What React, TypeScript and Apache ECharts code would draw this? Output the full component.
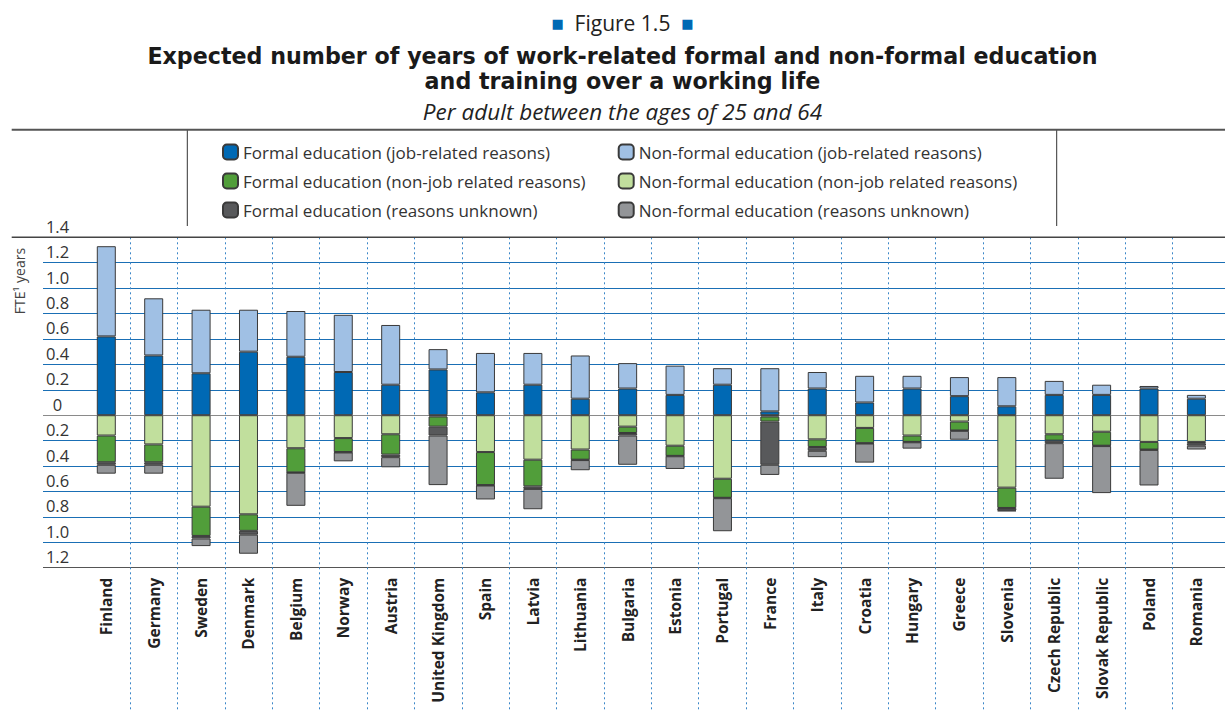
import React, { useEffect, useRef } from "react";
import * as echarts from "echarts";

const countries = [
  "Finland", "Germany", "Sweden", "Denmark", "Belgium", "Norway", "Austria",
  "United Kingdom", "Spain", "Latvia", "Lithuania", "Bulgaria", "Estonia",
  "Portugal", "France", "Italy", "Croatia", "Hungary", "Greece", "Slovenia",
  "Czech Republic", "Slovak Republic", "Poland", "Romania",
];

const formalJob = [0.62, 0.47, 0.33, 0.5, 0.46, 0.34, 0.24, 0.36, 0.18, 0.24, 0.13, 0.21, 0.16, 0.24, 0.03, 0.21, 0.1, 0.21, 0.15, 0.07, 0.16, 0.16, 0.21, 0.13];
const nonFormalJob = [0.71, 0.45, 0.5, 0.33, 0.36, 0.45, 0.47, 0.16, 0.31, 0.25, 0.34, 0.2, 0.23, 0.13, 0.34, 0.13, 0.21, 0.1, 0.15, 0.23, 0.11, 0.08, 0.02, 0.03];
const nonFormalNonJob = [-0.16, -0.23, -0.72, -0.78, -0.26, -0.18, -0.15, -0.01, -0.29, -0.35, -0.27, -0.09, -0.24, -0.5, -0.01, -0.19, -0.1, -0.16, -0.05, -0.57, -0.15, -0.13, -0.21, -0.21];
const formalNonJob = [-0.21, -0.14, -0.23, -0.13, -0.19, -0.11, -0.16, -0.08, -0.26, -0.21, -0.08, -0.05, -0.08, -0.15, -0.04, -0.06, -0.12, -0.05, -0.07, -0.16, -0.05, -0.11, -0.06, -0.01];
const formalUnknown = [-0.02, -0.02, -0.02, -0.03, -0.003, -0.003, -0.02, -0.07, -0.003, -0.02, -0.003, -0.02, -0.003, -0.003, -0.34, -0.03, -0.003, -0.003, -0.003, -0.02, -0.02, -0.003, -0.003, -0.02];
const nonFormalUnknown = [-0.07, -0.07, -0.06, -0.15, -0.26, -0.07, -0.08, -0.39, -0.11, -0.16, -0.08, -0.23, -0.1, -0.26, -0.08, -0.05, -0.15, -0.05, -0.07, -0.005, -0.28, -0.37, -0.28, -0.03];

const names = {
  fj: "Formal education (job-related reasons)",
  nfj: "Non-formal education (job-related reasons)",
  fnj: "Formal education (non-job related reasons)",
  nfnj: "Non-formal education (non-job related reasons)",
  fu: "Formal education (reasons unknown)",
  nfu: "Non-formal education (reasons unknown)",
};

const colors = {
  fj: "#0069b4",
  nfj: "#a0c0e4",
  fnj: "#519e3a",
  nfnj: "#c1df9d",
  fu: "#58595b",
  nfu: "#939598",
};

const FONT = "'Open Sans', sans-serif";
const CX = 622.5;

export default function App() {
  const ref = useRef<HTMLDivElement>(null);

  useEffect(() => {
    if (!ref.current) return;
    const chart = echarts.init(ref.current, null, { renderer: "svg" });

    const mkSeries = (key: string, data: number[]) => ({
      name: (names as any)[key],
      type: "bar",
      stack: "total",
      xAxisIndex: 1,
      yAxisIndex: 1,
      barWidth: 19,
      data,
      itemStyle: {
        color: (colors as any)[key],
        borderColor: "#3a3a3a",
        borderWidth: 1,
      },
      emphasis: { disabled: true },
    });

    const lineColors = [
      "#555555", "#1a6fb5", "#1a6fb5", "#1a6fb5", "#1a6fb5", "#1a6fb5",
      "#8a8a8a", "#1a6fb5", "#1a6fb5", "#1a6fb5", "#1a6fb5", "#1a6fb5",
      "#1a6fb5", "#555555",
    ];

    const legendBase = {
      orient: "vertical",
      top: 143.5,
      padding: 0,
      itemWidth: 15,
      itemHeight: 15,
      itemGap: 12,
      selectedMode: false,
      textStyle: { fontFamily: FONT, fontSize: 17, color: "#333", lineHeight: 17 },
    };

    const titleFont = {
      fontFamily: "'DejaVu Sans', sans-serif",
      fontSize: 22.2,
      fontWeight: "bold",
      color: "#1a1a1a",
      lineHeight: 26,
    };

    const option: any = {
      animation: false,
      textStyle: { fontFamily: FONT },
      title: [
        {
          text: "{sq|■}  Figure 1.5  {sq|■}",
          left: CX,
          textAlign: "center",
          top: 12,
          padding: 0,
          textStyle: {
            fontFamily: FONT,
            fontSize: 21,
            fontWeight: "normal",
            color: "#222",
            lineHeight: 22,
            rich: { sq: { color: "#0069b4", fontSize: 13, fontFamily: "'DejaVu Sans'" } },
          },
        },
        {
          text: "Expected number of years of work-related formal and non-formal education",
          left: CX,
          textAlign: "center",
          top: 43,
          padding: 0,
          textStyle: titleFont,
        },
        {
          text: "and training over a working life",
          left: CX,
          textAlign: "center",
          top: 68,
          padding: 0,
          textStyle: titleFont,
        },
        {
          text: "Per adult between the ages of 25 and 64",
          left: CX,
          textAlign: "center",
          top: 99,
          padding: 0,
          textStyle: {
            fontFamily: FONT,
            fontSize: 22.5,
            fontStyle: "italic",
            fontWeight: "normal",
            color: "#222",
            lineHeight: 24,
          },
        },
      ],
      legend: [
        { ...legendBase, left: 222, data: [names.fj, names.fnj, names.fu] },
        { ...legendBase, left: 617.7, data: [names.nfj, names.nfnj, names.nfu] },
      ],
      grid: [
        { left: 43, right: 0, top: 237.3, bottom: 142.3 },
        { left: 82.6, right: 4.9, top: 237.3, bottom: 142.3 },
        { left: 82.6, right: 4.9, top: 237.3, bottom: 0 },
      ],
      xAxis: [
        { gridIndex: 0, type: "value", min: 0, max: 1, show: false },
        {
          gridIndex: 1,
          type: "category",
          data: countries,
          axisLine: { show: false },
          axisTick: { show: false },
          splitLine: { show: false },
          axisLabel: {
            interval: 0,
            rotate: 90,
            margin: 10,
            fontFamily: FONT,
            fontWeight: "bold",
            fontSize: 15.5,
            color: "#222",
          },
        },
        {
          gridIndex: 2,
          type: "category",
          data: countries,
          axisLine: { show: false },
          axisTick: { show: false },
          axisLabel: { show: false },
          splitLine: {
            show: true,
            interval: 0,
            showMinLine: false,
            showMaxLine: false,
            lineStyle: { color: "#3a86c8", width: 1, type: [2, 3] },
          },
        },
      ],
      yAxis: [
        {
          gridIndex: 0,
          type: "value",
          min: -1.2,
          max: 1.4,
          interval: 0.2,
          axisLine: { show: false },
          axisTick: { show: false },
          axisLabel: {
            inside: true,
            align: "center",
            margin: 14.5,
            verticalAlign: "bottom",
            lineHeight: 22,
            fontFamily: FONT,
            fontSize: 16.5,
            color: "#333",
            formatter: (v: number) =>
              Math.abs(v) < 1e-9 ? "0" : Math.abs(v).toFixed(1),
          },
          splitLine: {
            show: true,
            lineStyle: { color: lineColors, width: 1.2 },
          },
        },
        {
          gridIndex: 1,
          type: "value",
          min: -1.2,
          max: 1.4,
          interval: 0.2,
          show: false,
          splitLine: { show: false },
        },
        {
          gridIndex: 2,
          type: "value",
          min: 0,
          max: 1,
          show: false,
          splitLine: { show: false },
        },
      ],
      graphic: [
        {
          type: "line",
          shape: { x1: 11.7, y1: 129.7, x2: 1225, y2: 129.7 },
          style: { stroke: "#555", lineWidth: 2 },
          z: 10,
        },
        {
          type: "line",
          shape: { x1: 11.7, y1: 237.3, x2: 1225, y2: 237.3 },
          style: { stroke: "#444", lineWidth: 1.6 },
          z: 10,
        },
        {
          type: "line",
          shape: { x1: 187.3, y1: 129.7, x2: 187.3, y2: 226 },
          style: { stroke: "#333", lineWidth: 1 },
        },
        {
          type: "line",
          shape: { x1: 1056.7, y1: 129.7, x2: 1056.7, y2: 226 },
          style: { stroke: "#333", lineWidth: 1 },
        },
        {
          type: "text",
          x: 19,
          y: 281,
          rotation: Math.PI / 2,
          style: {
            text: "FTE¹ years",
            fontFamily: FONT,
            fontSize: 14,
            fill: "#444",
            align: "center",
            verticalAlign: "middle",
          },
        },
      ],
      series: [
        mkSeries("fj", formalJob),
        mkSeries("nfj", nonFormalJob),
        mkSeries("nfnj", nonFormalNonJob),
        mkSeries("fnj", formalNonJob),
        mkSeries("fu", formalUnknown),
        mkSeries("nfu", nonFormalUnknown),
      ],
    };

    chart.setOption(option);
    return () => chart.dispose();
  }, []);

  return (
    <div
      ref={ref}
      style={{ position: "absolute", left: 0, top: 0, width: 1225, height: 710, background: "#fff" }}
    />
  );
}
